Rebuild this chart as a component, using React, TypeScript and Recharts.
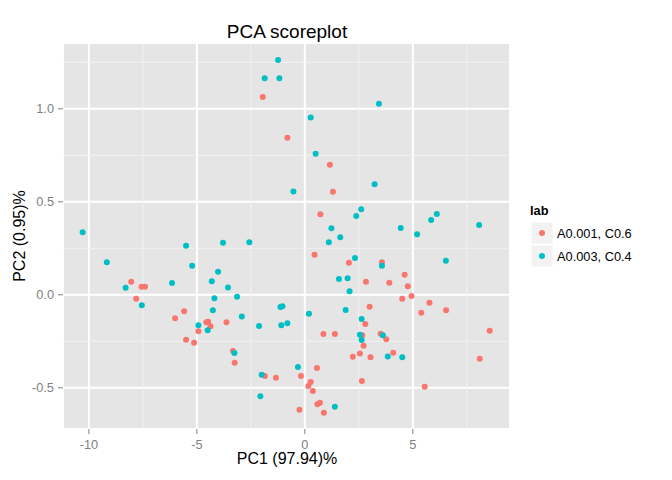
import React from 'react';
import { ScatterChart, Scatter, XAxis, YAxis, CartesianGrid, ReferenceLine } from 'recharts';

const FONT = '"Liberation Sans", Arial, Helvetica, sans-serif';
const RED = '#F8766D';
const TEAL = '#00BFC4';

const chartTitle = 'PCA scoreplot';
const xTitle = 'PC1 (97.94)%';
const yTitle = 'PC2 (0.95)%';
const legendTitle = 'lab';
const groupLabels = ['A0.001, C0.6', 'A0.003, C0.4'];

const xTicks = [-10, -5, 0, 5];
const yTicks = [-0.5, 0, 0.5, 1.0];
const xMinor = [-7.5, -2.5, 2.5, 7.5];
const yMinor = [-0.25, 0.25, 0.75, 1.25];
const xDomain: [number, number] = [-11.2, 9.5];
const yDomain: [number, number] = [-0.7215, 1.354];

// group A0.001, C0.6 : [PC1, PC2]
const redPoints: [number, number][] = [
  [-1.95, 1.063], [-0.81, 0.845], [1.16, 0.699], [1.30, 0.554], [0.72, 0.433],
  [-8.04, 0.070], [-7.56, 0.044], [-7.40, 0.044], [-7.81, -0.021], [-5.59, -0.089],
  [-6.01, -0.126], [-4.48, -0.145], [-4.56, -0.148], [-4.37, -0.169], [-4.93, -0.196],
  [-3.63, -0.148], [-5.50, -0.241], [-5.13, -0.258], [-3.33, -0.302], [-3.25, -0.365],
  [-1.85, -0.437], [-1.34, -0.446], [0.45, 0.216], [2.04, 0.173], [3.57, 0.175],
  [4.62, 0.108], [2.83, 0.070], [3.91, 0.065], [4.77, 0.046], [4.51, -0.021],
  [4.94, -0.006], [5.77, -0.042], [5.39, -0.096], [6.54, -0.083], [8.56, -0.193],
  [8.10, -0.344], [5.55, -0.494], [3.00, -0.064], [2.80, -0.157], [0.86, -0.211],
  [1.39, -0.211], [2.66, -0.218], [3.51, -0.209], [3.77, -0.239], [2.72, -0.274],
  [2.22, -0.333], [2.55, -0.315], [3.04, -0.336], [4.09, -0.311], [0.56, -0.394],
  [-0.18, -0.437], [0.27, -0.469], [0.16, -0.490], [0.37, -0.517], [2.64, -0.463],
  [0.58, -0.589], [0.70, -0.580], [0.88, -0.634], [-0.25, -0.618],
];

// group A0.003, C0.4 : [PC1, PC2]
const tealPoints: [number, number][] = [
  [-1.24, 1.262], [-1.86, 1.164], [-1.18, 1.164], [-10.29, 0.336], [3.43, 1.027],
  [0.27, 0.954], [0.50, 0.759], [3.23, 0.594], [-0.53, 0.556], [2.61, 0.460],
  [2.38, 0.424], [1.23, 0.358], [1.64, 0.309], [4.44, 0.359], [5.20, 0.325],
  [6.11, 0.434], [5.85, 0.402], [8.07, 0.375], [-5.50, 0.264], [-3.79, 0.280],
  [-2.57, 0.282], [-9.17, 0.175], [-5.22, 0.156], [-4.02, 0.124], [-8.30, 0.038],
  [-6.15, 0.063], [-4.31, 0.073], [-3.56, 0.040], [-7.55, -0.056], [-4.19, -0.019],
  [-3.14, -0.010], [-4.26, -0.083], [-2.92, -0.116], [-1.13, -0.066], [-1.04, -0.062],
  [-4.93, -0.164], [-4.50, -0.191], [-2.12, -0.168], [-1.09, -0.164], [-0.81, -0.153],
  [-3.26, -0.313], [-2.00, -0.430], [-2.06, -0.546], [1.11, 0.282], [2.32, 0.198],
  [3.57, 0.156], [6.53, 0.183], [1.58, 0.085], [1.98, 0.089], [2.07, 0.019],
  [1.89, -0.082], [0.19, -0.102], [2.63, -0.130], [2.55, -0.215], [2.63, -0.243],
  [3.61, -0.218], [3.84, -0.331], [4.51, -0.336], [-0.32, -0.388], [1.39, -0.602],
];

const redData = redPoints.map(([x, y]) => ({ x, y }));
const tealData = tealPoints.map(([x, y]) => ({ x, y }));

const dot = (color: string) => (p: any) => (
  <circle cx={p.cx} cy={p.cy} r={3} fill={color} />
);

const tickStyle = { fill: '#7F7F7F', fontSize: 12.8, fontFamily: FONT };

export default function App() {
  return (
    <div style={{ position: 'absolute', left: 0, top: 0, width: 672, height: 480, background: '#FFFFFF' }}>
      <ScatterChart width={672} height={480} margin={{ top: 43, right: 162, bottom: 0, left: 0 }}>
        <CartesianGrid fill="#E5E5E5" fillOpacity={1} stroke="#FFFFFF" strokeWidth={2} />
        {xMinor.map((v) => (
          <ReferenceLine key={'mx' + v} x={v} stroke="#F2F2F2" strokeWidth={1} />
        ))}
        {yMinor.map((v) => (
          <ReferenceLine key={'my' + v} y={v} stroke="#F2F2F2" strokeWidth={1} />
        ))}
        <XAxis
          type="number"
          dataKey="x"
          domain={xDomain}
          ticks={xTicks}
          allowDataOverflow
          interval={0}
          height={51}
          axisLine={false}
          tickLine={{ stroke: '#7F7F7F' }}
          tickSize={5}
          tickMargin={6}
          tick={tickStyle}
        />
        <YAxis
          type="number"
          dataKey="y"
          domain={yDomain}
          ticks={yTicks}
          allowDataOverflow
          interval={0}
          width={63}
          axisLine={false}
          tickLine={{ stroke: '#7F7F7F' }}
          tickSize={5}
          tickMargin={4}
          tick={tickStyle}
          tickFormatter={(v: number) => v.toFixed(1)}
        />
        <Scatter name={groupLabels[0]} data={redData} isAnimationActive={false} shape={dot(RED)} />
        <Scatter name={groupLabels[1]} data={tealData} isAnimationActive={false} shape={dot(TEAL)} />
      </ScatterChart>
      <svg
        width={672}
        height={480}
        style={{ position: 'absolute', left: 0, top: 0, pointerEvents: 'none' }}
        fontFamily={FONT}
      >
        <text x={287} y={38} textAnchor="middle" fontSize={19} fill="#000000">{chartTitle}</text>
        <text x={287} y={464} textAnchor="middle" fontSize={16} fill="#000000">{xTitle}</text>
        <text transform="translate(25,236) rotate(-90)" textAnchor="middle" fontSize={16} fill="#000000">{yTitle}</text>
        <text x={530} y={215} fontSize={12.8} fontWeight="bold" fill="#000000">{legendTitle}</text>
        {groupLabels.map((lab, i) => (
          <g key={lab}>
            <rect x={531} y={222 + i * 23} width={22} height={22} fill="#F2F2F2" stroke="#FFFFFF" strokeWidth={1} />
            <circle cx={542} cy={233 + i * 23} r={3} fill={i === 0 ? RED : TEAL} />
            <text x={557} y={237.5 + i * 23} fontSize={12.8} fill="#000000">{lab}</text>
          </g>
        ))}
      </svg>
    </div>
  );
}
